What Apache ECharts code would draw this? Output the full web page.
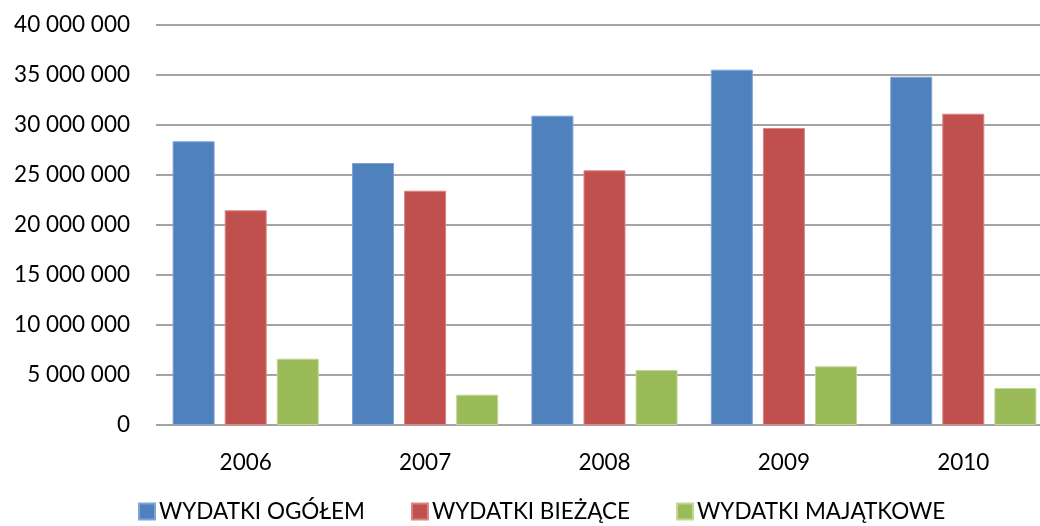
<!DOCTYPE html>
<html>
<head>
<meta charset="utf-8">
<script src="https://cdn.jsdelivr.net/npm/echarts@6/dist/echarts.min.js"></script>
<style>
  html, body { margin: 0; padding: 0; background: #fff; }
  #chart { width: 1040px; height: 526px; }
</style>
</head>
<body>
<div id="chart"></div>
<script>
// lata
var years = ['2006', '2007', '2008', '2009', '2010'];

// wartości serii
var wydatkiOgolem = [28370000, 26200000, 30930000, 35530000, 34830000];
var wydatkiBiezace = [21470000, 23430000, 25470000, 29700000, 31130000];
var wydatkiMajatkowe = [6630000, 3030000, 5500000, 5870000, 3700000];

var seriesNames = ['WYDATKI OGÓŁEM', 'WYDATKI BIEŻĄCE', 'WYDATKI MAJĄTKOWE'];

var fontFam = 'Lato, "Open Sans", sans-serif';

function fmt(v) {
  return String(v).replace(/\B(?=(\d{3})+(?!\d))/g, ' ');
}

var chart = echarts.init(document.getElementById('chart'));

var option = {
  animation: false,
  color: ['#4F81BD', '#C0504D', '#9BBB59'],
  textStyle: { fontFamily: fontFam },
  grid: { left: 156, width: 897, top: 25, bottom: 101, outerBoundsMode: 'none', containLabel: false },
  legend: {
    data: seriesNames,
    top: 500,
    left: 138,
    padding: 0,
    itemWidth: 16,
    itemHeight: 16,
    itemGap: 46,
    icon: 'rect',
    textStyle: { fontSize: 22.5, color: '#000', fontFamily: fontFam, padding: [0, 0, 0, -1] }
  },
  xAxis: {
    type: 'category',
    data: years,
    axisTick: { show: false },
    axisLine: { show: false },
    axisLabel: { fontSize: 22.5, color: '#000', margin: 26 }
  },
  yAxis: {
    type: 'value',
    min: 0,
    max: 40000000,
    interval: 5000000,
    axisLine: { show: false },
    axisTick: { show: false },
    splitLine: { lineStyle: { color: '#868686', width: 1.5 } },
    axisLabel: { fontSize: 22.5, color: '#000', margin: 26, formatter: fmt }
  },
  series: [
    { name: seriesNames[0], type: 'bar', data: wydatkiOgolem, barWidth: 42, barGap: '24%',
      itemStyle: { borderColor: '#7FA3D6', borderWidth: 1 } },
    { name: seriesNames[1], type: 'bar', data: wydatkiBiezace, barWidth: 42, barGap: '24%',
      itemStyle: { borderColor: '#DB8583', borderWidth: 1 } },
    { name: seriesNames[2], type: 'bar', data: wydatkiMajatkowe, barWidth: 42, barGap: '24%',
      itemStyle: { borderColor: '#C0D896', borderWidth: 1 } }
  ]
};

chart.setOption(option);
</script>
</body>
</html>
